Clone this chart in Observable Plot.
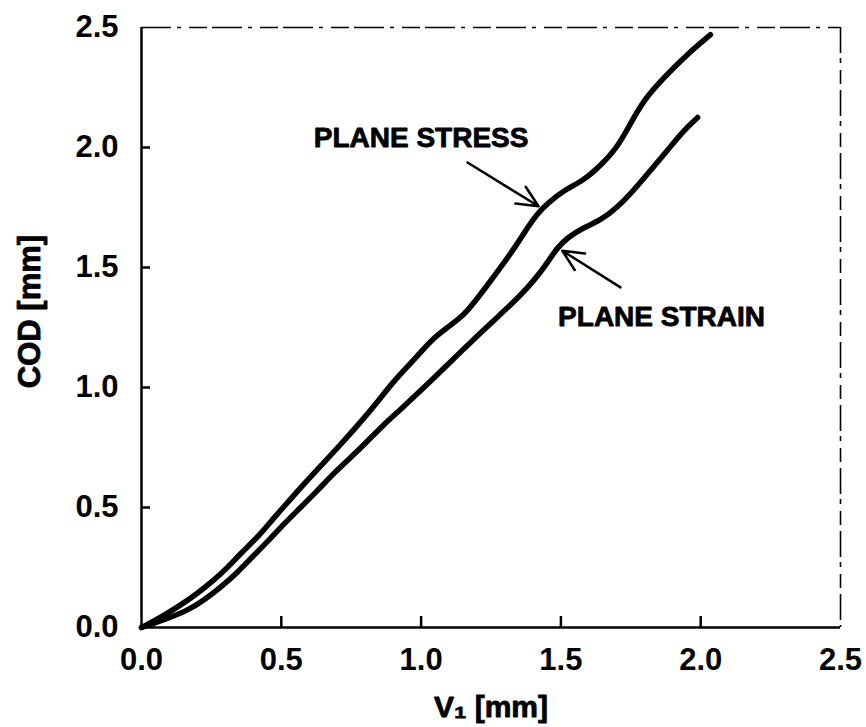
<!DOCTYPE html>
<html><head><meta charset="utf-8">
<script src="https://cdn.jsdelivr.net/npm/d3@7"></script>
<script src="https://cdn.jsdelivr.net/npm/@observablehq/plot@0.6"></script>
<style>body{margin:0;background:#fff} #chart{width:866px;height:727px}</style>
</head><body><div id="chart"></div>
<script>
// Plane stress curve (upper)
const stressV = [0, 0.068, 0.139, 0.2, 0.258, 0.308, 0.354, 0.415, 0.472, 0.522, 0.575, 0.64, 0.712, 0.783, 0.844, 0.901, 0.962, 1.009, 1.044, 1.094, 1.152, 1.19, 1.223, 1.295, 1.345, 1.381, 1.416, 1.452, 1.509, 1.581, 1.642, 1.702, 1.749, 1.795, 1.867, 1.953, 2.035];
const stressC = [0, 0.042, 0.092, 0.142, 0.196, 0.25, 0.308, 0.375, 0.455, 0.52, 0.59, 0.672, 0.762, 0.855, 0.94, 1.025, 1.1, 1.16, 1.205, 1.25, 1.30, 1.355, 1.404, 1.517, 1.6, 1.667, 1.725, 1.767, 1.821, 1.862, 1.925, 2.0, 2.1, 2.196, 2.29, 2.39, 2.47];
// Plane strain curve (lower)
const strainV = [0, 0.093, 0.165, 0.222, 0.283, 0.343, 0.401, 0.461, 0.508, 0.569, 0.629, 0.687, 0.748, 0.808, 0.866, 0.926, 0.987, 1.044, 1.094, 1.152, 1.21, 1.27, 1.33, 1.381, 1.427, 1.463, 1.488, 1.524, 1.581, 1.642, 1.702, 1.76, 1.82, 1.881, 1.938, 1.989];
const strainC = [0, 0.0375, 0.071, 0.1125, 0.167, 0.229, 0.3, 0.37, 0.43, 0.5, 0.57, 0.642, 0.708, 0.776, 0.845, 0.908, 0.975, 1.037, 1.095, 1.16, 1.225, 1.29, 1.355, 1.415, 1.48, 1.54, 1.583, 1.625, 1.667, 1.696, 1.75, 1.821, 1.904, 1.9875, 2.07, 2.125];

const xTicks = [0, 0.5, 1, 1.5, 2, 2.5];
const yTicks = [0, 0.5, 1, 1.5, 2, 2.5];
const xTickLabels = ["0.0", "0.5", "1.0", "1.5", "2.0", "2.5"];
const yTickLabels = ["0.0", "0.5", "1.0", "1.5", "2.0", "2.5"];
const xTitle = "V\u2081 [mm]";
const yTitle = "COD [mm]";

// annotations: label text + data position, arrows from -> to
const labelText = ["PLANE STRESS", "PLANE STRAIN"];
const labelV = [1.0, 1.86];
const labelC = [2.04, 1.294];
const arrowV1 = [1.166, 1.713];
const arrowC1 = [1.9375, 1.417];
const arrowV2 = [1.42, 1.505];
const arrowC2 = [1.755, 1.57];

const stress = stressV.map((v, i) => ({v, c: stressC[i]}));
const strain = strainV.map((v, i) => ({v, c: strainC[i]}));
const labels = labelText.map((t, i) => ({t, v: labelV[i], c: labelC[i]}));
const arrows = arrowV1.map((v, i) => ({v1: v, c1: arrowC1[i], v2: arrowV2[i], c2: arrowC2[i]}));

const W = 866, H = 727, mL = 141, mR = 26, mT = 27, mB = 100;
const innerW = W - mL - mR, innerH = H - mT - mB;
const fontMain = "'Liberation Sans', Arial, sans-serif";

const plot = Plot.plot({
  width: W, height: H,
  marginLeft: mL, marginRight: mR, marginTop: mT, marginBottom: mB,
  style: {fontFamily: fontMain, color: "#000", background: "#fff"},
  x: {domain: [0, 2.5], ticks: xTicks},
  y: {domain: [0, 2.5], ticks: yTicks},
  marks: [
    // frame: solid left/bottom, broken top/right
    Plot.ruleX([2.5], {stroke: "#000", strokeWidth: 1.6, strokeDasharray: "26 5 5 7 14 6"}),
    Plot.ruleY([2.5], {stroke: "#000", strokeWidth: 1.6, strokeDasharray: "30 6 4 8 18 5"}),
    Plot.ruleX([0], {stroke: "#000", strokeWidth: 2.5}),
    Plot.ruleY([0], {stroke: "#000", strokeWidth: 2.5}),
    // inward ticks
    Plot.ruleX(xTicks.slice(1, -1), {stroke: "#000", strokeWidth: 2.5, insetTop: innerH - 11}),
    Plot.ruleY(yTicks.slice(1, -1), {stroke: "#000", strokeWidth: 2.5, insetRight: innerW - 9}),
    Plot.axisX(xTicks, {tickSize: 0, tickPadding: 20, fontSize: 31, fontWeight: "bold", label: null,
      fill: "#000", stroke: "#000", strokeWidth: 1.1,
      tickFormat: d => xTickLabels[xTicks.indexOf(d)]}),
    Plot.axisY(yTicks, {tickSize: 0, tickPadding: 23, fontSize: 31, fontWeight: "bold", label: null,
      fill: "#000", stroke: "#000", strokeWidth: 1.1,
      tickFormat: d => yTickLabels[yTicks.indexOf(d)]}),
    Plot.text([xTitle], {frameAnchor: "bottom", dy: 89, fontSize: 30, fontWeight: "bold",
      fill: "#000", stroke: "#000", strokeWidth: 0.8, text: d => d}),
    Plot.text([yTitle], {frameAnchor: "left", textAnchor: "middle", lineAnchor: "middle", dx: -111, dy: -16, rotate: -90,
      fontSize: 31, fontWeight: "bold", fill: "#000", stroke: "#000", strokeWidth: 0.8, text: d => d}),
    // curves
    Plot.line(stress, {x: "v", y: "c", stroke: "#000", strokeWidth: 5.5, curve: "basis"}),
    Plot.line(strain, {x: "v", y: "c", stroke: "#000", strokeWidth: 5.5, curve: "basis"}),
    // annotations
    Plot.arrow(arrows, {x1: "v1", y1: "c1", x2: "v2", y2: "c2", stroke: "#000", strokeWidth: 2.5, headLength: 14, headAngle: 50}),
    Plot.text(labels, {x: "v", y: "c", text: "t", fontSize: 28, fontWeight: "bold", fill: "#000", stroke: "#000", strokeWidth: 0.8})
  ]
});
document.getElementById("chart").appendChild(plot);
</script>
</body></html>
